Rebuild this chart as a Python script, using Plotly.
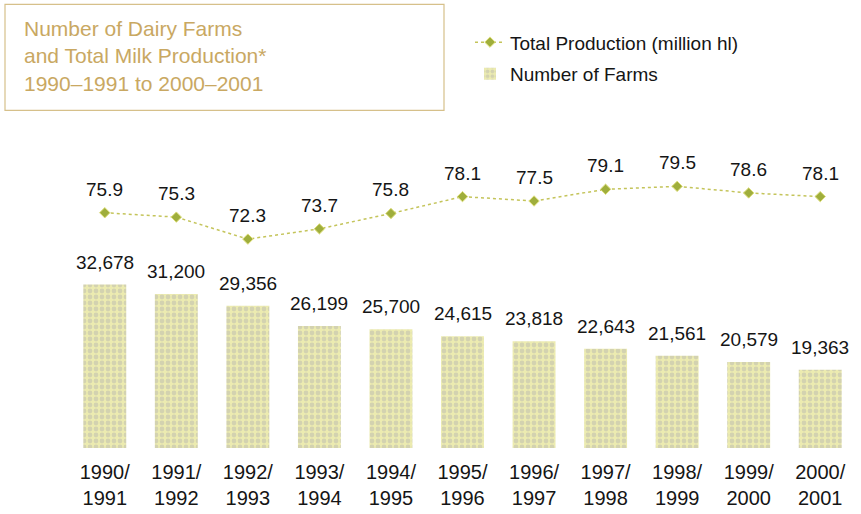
import plotly.graph_objects as go

seasons = ["1990/<br>1991", "1991/<br>1992", "1992/<br>1993", "1993/<br>1994", "1994/<br>1995",
           "1995/<br>1996", "1996/<br>1997", "1997/<br>1998", "1998/<br>1999", "1999/<br>2000",
           "2000/<br>2001"]
farms = [32678, 31200, 29356, 26199, 25700, 24615, 23818, 22643, 21561, 20579, 19363]
production = [75.9, 75.3, 72.3, 73.7, 75.8, 78.1, 77.5, 79.1, 79.5, 78.6, 78.1]

W, H = 861, 514
L, R, T, B = 69, 5, 150, 63
PW, PH = W - L - R, H - T - B

def px(x):
    return (x - L) / PW

def py(y):
    return (H - B - y) / PH

xs = list(range(len(seasons)))
fig = go.Figure()

fig.add_trace(go.Scatter(
    x=xs, y=production, yaxis="y2", name="Total Production (million hl)",
    mode="lines+markers", legendgroup="prod",
    line=dict(color="#c4c45a", width=1.5, dash="dot"),
    marker=dict(symbol="diamond", size=8, color="#9fae3c", line=dict(color="#dede7a", width=1)),
))
fig.add_trace(go.Bar(
    x=xs, y=farms, name="Number of Farms", width=0.6, legendgroup="farms",
    marker=dict(color="#ecebb2", line=dict(width=0),
                pattern=dict(shape=".", fgcolor="#b9b9b0", bgcolor="#ecebb0", size=6, solidity=0.5)),
))

for i, v in enumerate(farms):
    fig.add_annotation(x=i, y=v, xref="x", yref="y", text=f"{v:,}", showarrow=False,
                       yanchor="bottom", yshift=10,
                       font=dict(family="Liberation Sans, Arial", size=19, color="#151515"))
for i, v in enumerate(production):
    fig.add_annotation(x=i, y=v, xref="x", yref="y2", text=f"{v:.1f}", showarrow=False,
                       yanchor="bottom", yshift=11,
                       font=dict(family="Liberation Sans, Arial", size=19, color="#151515"))

# title box
fig.add_shape(type="rect", xref="paper", yref="paper",
              x0=px(5), x1=px(444), y0=py(110), y1=py(3),
              line=dict(color="#d6c08a", width=1.2), fillcolor="rgba(0,0,0,0)")
fig.add_annotation(xref="paper", yref="paper", x=px(22), y=py(14), xanchor="left", yanchor="top",
                   align="left", showarrow=False,
                   text="Number of Dairy Farms<br>and Total Milk Production*<br>1990\u20131991 to 2000\u20132001",
                   font=dict(family="Liberation Sans, Arial", size=21, color="#c9a862"))

fig.update_layout(
    width=W, height=H,
    margin=dict(l=L, r=R, t=T, b=B),
    paper_bgcolor="white", plot_bgcolor="white",
    bargap=0.4,
    showlegend=True,
    legend=dict(x=px(470), y=py(22), xanchor="left", yanchor="top", orientation="v",
                font=dict(family="Liberation Sans, Arial", size=19, color="#151515"),
                bgcolor="rgba(0,0,0,0)", itemwidth=30, tracegroupgap=4),
    xaxis=dict(range=[-0.5, len(seasons) - 0.5], tickmode="array", tickvals=xs, ticktext=seasons,
               showgrid=False, zeroline=False, showline=False,
               ticks="outside", ticklen=6, tickcolor="rgba(0,0,0,0)",
               tickfont=dict(family="Liberation Sans, Arial", size=20, color="#151515")),
    yaxis=dict(range=[7120, 53722], visible=False, showgrid=False, zeroline=False),
    yaxis2=dict(range=[43.8, 84.46], overlaying="y", visible=False, showgrid=False, zeroline=False),
)

fig.write_html("out.html")
